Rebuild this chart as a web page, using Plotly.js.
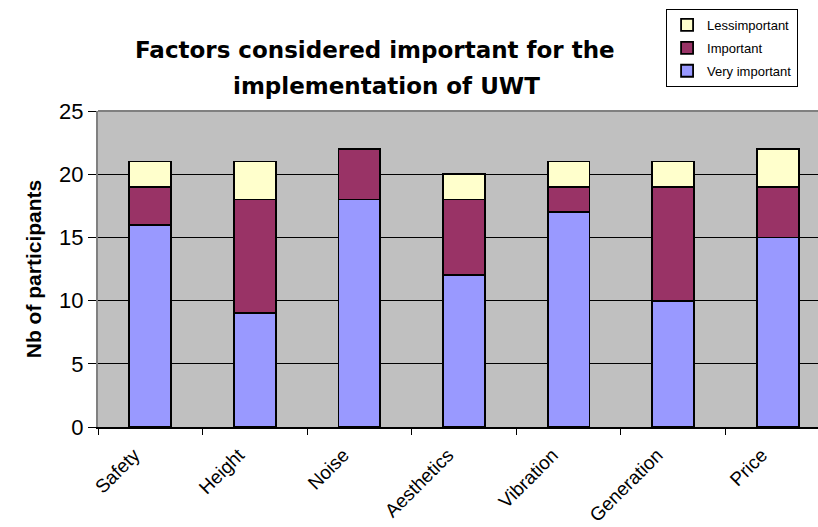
<!DOCTYPE html>
<html>
<head>
<meta charset="utf-8">
<script src="https://cdn.plot.ly/plotly-3.0.1.min.js"></script>
<style>
  html, body { margin: 0; padding: 0; background: #fff; }
  #chart { width: 818px; height: 527px; }
</style>
</head>
<body>
<div id="chart"></div>
<script>
// Survey answers per factor (number of participants)
const factors = ["Safety", "Height", "Noise", "Aesthetics", "Vibration", "Generation", "Price"];
const veryImportant = [16, 9, 18, 12, 17, 10, 15];
const important = [3, 9, 4, 6, 2, 9, 4];
const lessImportant = [2, 3, 0, 2, 2, 2, 3];
const yTicks = [0, 5, 10, 15, 20, 25];
const headingLines = ["Factors considered important for the", "implementation of UWT"];

const outline = { color: "#000000", width: 1.8 };

// Stack from the bottom up; the legend lists the top segment first
const traces = [
  { name: "Very important", y: veryImportant, color: "#9999FF", rank: 3 },
  { name: "Important", y: important, color: "#993366", rank: 2 },
  { name: "Lessimportant", y: lessImportant, color: "#FFFFCC", rank: 1 }
].map(s => ({
  type: "bar",
  name: s.name,
  legendgroup: s.name,
  legendrank: s.rank,
  x: factors,
  y: s.y,
  width: 0.4,
  marker: { color: s.color, line: outline },
  hoverinfo: "x+y+name"
}));

const sans = "Liberation Sans, Arial, sans-serif";
const headingFont = { size: 23, family: "DejaVu Sans, sans-serif", color: "#000000" };

// Two-line heading, placed as separate lines for wider line spacing
const heading = [
  { text: headingLines[0], x: 0.385, y: 1.146 },
  { text: headingLines[1], x: 0.401, y: 1.031 }
].map(h => ({
  xref: "paper", yref: "paper",
  x: h.x, y: h.y,
  xanchor: "center", yanchor: "bottom",
  showarrow: false,
  text: "<b>" + h.text + "</b>",
  font: headingFont
}));

const layout = {
  width: 818,
  height: 527,
  paper_bgcolor: "#FFFFFF",
  plot_bgcolor: "#C0C0C0",
  barmode: "stack",
  margin: { l: 98, r: 0, t: 111, b: 100 },
  font: { family: sans, color: "#000000" },
  annotations: heading,
  xaxis: {
    type: "category",
    range: [-0.5, 6.385],
    tickson: "boundaries",
    ticks: "outside",
    ticklen: 6,
    tickcolor: "#000000",
    tickwidth: 1,
    tickangle: -45,
    ticklabelshift: -16,
    ticklabelstandoff: 8,
    tickfont: { size: 19, color: "#000000" },
    showline: true,
    linecolor: "#000000",
    linewidth: 1.5,
    showgrid: false,
    fixedrange: true
  },
  yaxis: {
    range: [0, 25],
    tickvals: yTicks,
    ticktext: yTicks.map(String),
    ticks: "outside",
    ticklen: 8,
    tickcolor: "#000000",
    tickfont: { size: 22, color: "#000000" },
    showline: true,
    linecolor: "#808080",
    linewidth: 2,
    showgrid: true,
    gridcolor: "#000000",
    gridwidth: 1,
    zeroline: false,
    title: {
      text: "<b>Nb of participants</b>",
      font: { size: 21, color: "#000000" },
      standoff: 12
    },
    fixedrange: true
  },
  shapes: [
    { type: "line", xref: "paper", yref: "paper", x0: 0, x1: 1, y0: 1, y1: 1,
      line: { color: "#808080", width: 2 } }
  ],
  legend: {
    traceorder: "grouped",
    x: 0.789,
    xanchor: "left",
    yref: "container",
    y: 1 - 9 / 527,
    yanchor: "top",
    bgcolor: "#FFFFFF",
    bordercolor: "#000000",
    borderwidth: 1,
    font: { size: 13, color: "#000000" },
    itemwidth: 30,
    tracegroupgap: 3
  },
  showlegend: true
};

Plotly.newPlot("chart", traces, layout, { displayModeBar: false, staticPlot: true });
</script>
</body>
</html>
